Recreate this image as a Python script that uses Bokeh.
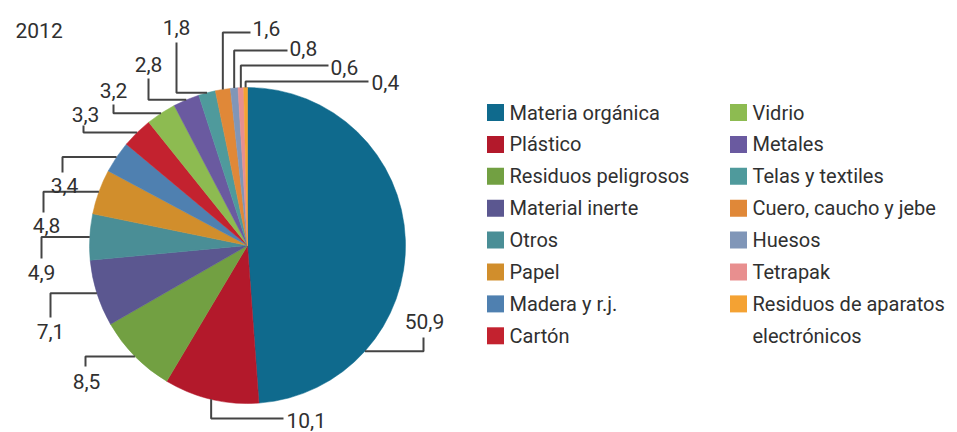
import math
from bokeh.plotting import figure
from bokeh.models import Range1d
from bokeh.core.properties import value
from bokeh.embed import file_html
from bokeh.resources import INLINE

# ---- data ----
year_label = "2012"
categories = [
    "Materia orgánica", "Plástico", "Residuos peligrosos", "Material inerte",
    "Otros", "Papel", "Madera y r.j.", "Cartón",
    "Vidrio", "Metales", "Telas y textiles", "Cuero, caucho y jebe",
    "Huesos", "Tetrapak", "Residuos de aparatos\nelectrónicos",
]
values = [50.9, 10.1, 8.5, 7.1, 4.9, 4.8, 3.4, 3.3, 3.2, 2.8, 1.8, 1.6, 0.8, 0.6, 0.4]
colors = [
    "#0f6a8d", "#b3192b", "#72a042", "#5b5790", "#4a8e96", "#d18e2c", "#4f80b0", "#c3222f",
    "#8dbb51", "#6a5aa0", "#4f9a9c", "#e08838", "#8096b8", "#e88f8f", "#f4a233",
]

# ---- layout (pixel coords, y measured downward) ----
W, H = 957, 432
CX, CY, R = 247, 245, 158
TEXT_COLOR = "#303030"
FONT = "Roboto"
# per label: leader shape, anchor angle override (deg clockwise from top) or None, elbow end, text pos, align
label_layout = [
    ("hv", 132, (423, 337), (424, 321), "center"),
    ("vh", None, (283, 418), (286, 420), "left"),
    ("hv", None, (85, 366), (86, 381), "center"),
    ("hv", None, (50, 317), (50, 331), "center"),
    ("hv", None, (41, 258), (41, 272), "center"),
    ("hv", None, (43, 212), (46, 225), "center"),
    ("hv", None, (62, 172), (64, 185), "center"),
    ("hv", None, (83, 125), (85, 114), "center"),
    ("hv", None, (113, 104), (113, 90), "center"),
    ("hv", None, (148, 78), (148, 64), "center"),
    ("hv", None, (176, 42), (176, 27), "center"),
    ("vh", None, (250, 32), (252, 28), "left"),
    ("vh", None, (287, 50), (289, 48), "left"),
    ("vh", None, (328, 65), (330, 67), "left"),
    ("vh", None, (368, 81), (371, 82), "left"),
]
LEG_COLS_X = [495, 738]
LEG_TEXT_DX = 14
LEG_Y0, LEG_DY, LEG_PER_COL, LEG_SQ = 112, 31.9, 8, 17


def Y(y):
    return H - y


p = figure(width=W, height=H, output_backend="svg", toolbar_location=None,
           x_range=Range1d(0, W), y_range=Range1d(0, H), min_border=0)
p.axis.visible = False
p.grid.visible = False
p.outline_line_color = None
p.background_fill_color = "white"
p.border_fill_color = "white"

total = sum(values)
starts, ends, mids = [], [], []
acc = 0.0
for v in values:
    a0 = acc / total * 360.0
    acc += v
    a1 = acc / total * 360.0
    starts.append(a0)
    ends.append(a1)
    mids.append((a0 + a1) / 2)

# wedges (math angles, anticlockwise)
p.wedge(x=[CX] * len(values), y=[Y(CY)] * len(values), radius=R,
        start_angle=[math.radians(90 - e) for e in ends],
        end_angle=[math.radians(90 - s) for s in starts],
        direction="anticlock", fill_color=colors, line_color=colors, line_width=0.5)

# leader lines
xs, ys = [], []
tx, ty, tt, ta = [], [], [], []
for i, (shape, ang, (ex, ey), (lx, ly), align) in enumerate(label_layout):
    a = math.radians(ang if ang is not None else mids[i])
    ax = CX + R * math.sin(a)
    ay = CY - R * math.cos(a)
    if shape == "hv":
        pts = [(ax, ay), (ex, ay), (ex, ey)]
    else:
        pts = [(ax, ay), (ax, ey), (ex, ey)]
    xs.append([q[0] for q in pts])
    ys.append([Y(q[1]) for q in pts])
    tx.append(lx)
    ty.append(Y(ly))
    tt.append(f"{values[i]:.1f}".replace(".", ","))
    ta.append(align)

p.multi_line(xs=xs, ys=ys, line_color="#444444", line_width=2)
p.text(x=tx, y=ty, text=tt, text_align=ta, text_baseline="middle",
       text_font=value(FONT), text_font_size="21px", text_color=TEXT_COLOR)

# year
p.text(x=[15], y=[Y(30)], text=[year_label], text_align="left", text_baseline="middle",
       text_font=value(FONT), text_font_size="21px", text_color=TEXT_COLOR)

# legend
sqx, sqy, lx, ly, lt = [], [], [], [], []
for i, name in enumerate(categories):
    col = i // LEG_PER_COL
    row = i % LEG_PER_COL
    x0 = LEG_COLS_X[col]
    y0 = LEG_Y0 + row * LEG_DY
    sqx.append(x0)
    sqy.append(Y(y0))
    for k, line in enumerate(name.split("\n")):
        lx.append(x0 + LEG_TEXT_DX)
        ly.append(Y(y0 + k * LEG_DY))
        lt.append(line)

p.rect(x=sqx, y=sqy, width=LEG_SQ, height=LEG_SQ, fill_color=colors, line_color=None)
p.text(x=lx, y=ly, text=lt, text_align="left", text_baseline="middle",
       text_font=value(FONT), text_font_size="20px", text_color=TEXT_COLOR)

open("out.html", "w").write(file_html(p, INLINE))
